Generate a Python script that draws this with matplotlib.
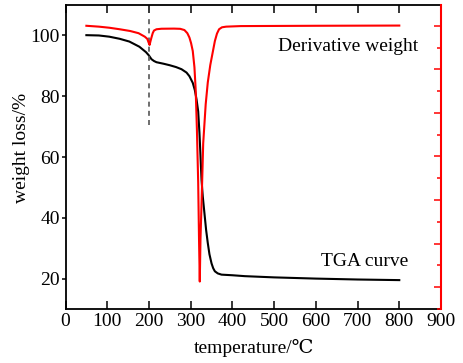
import matplotlib
matplotlib.use("Agg")
import matplotlib.pyplot as plt
from matplotlib.ticker import MultipleLocator

plt.rcParams["font.family"] = ["Liberation Serif", "DejaVu Serif", "DejaVu Sans"]

# TGA curve (weight %)
tga_temp = [50, 80, 105, 130, 153, 177, 193, 200, 206, 212, 218, 235, 250, 265,
            278, 290, 297, 305, 310, 314, 318, 321, 323, 326, 329, 333, 337, 341,
            345, 350, 354, 358, 365, 374, 400, 430, 500, 600, 700, 800]
tga_weight = [100.1, 100.0, 99.6, 98.9, 98.0, 96.3, 94.5, 93.4, 92.2, 91.6, 91.2,
              90.7, 90.2, 89.6, 88.9, 87.8, 86.6, 84.4, 82.0, 79.0, 75.0, 68.0,
              62.0, 52.5, 47.0, 41.5, 36.0, 31.7, 28.0, 25.0, 23.4, 22.4, 21.7,
              21.3, 21.1, 20.8, 20.4, 20.0, 19.7, 19.5]

# derivative weight curve (arbitrary units, right axis)
dtg_temp = [50, 80, 105, 130, 155, 175, 190, 196, 199, 201.5, 203.5, 206, 209, 212,
            218, 230, 260, 275, 285, 292, 297, 301, 305, 309, 312, 315, 318, 320,
            321.8, 323.5, 326, 330, 336, 341, 347, 353, 358, 363, 368, 375, 385,
            420, 600, 800]
dtg_value = [0.0, -0.02, -0.045, -0.08, -0.12, -0.17, -0.25, -0.30, -0.38, -0.44,
             -0.36, -0.27, -0.17, -0.11, -0.08, -0.068, -0.065, -0.07, -0.098,
             -0.17, -0.27, -0.40, -0.58, -0.95, -1.47, -2.4, -3.6, -4.9, -5.87,
             -4.9, -4.1, -2.7, -1.8, -1.3, -0.9, -0.6, -0.35, -0.18, -0.08, -0.035,
             -0.02, -0.007, 0.0, 0.005]

x_ticks = [0, 100, 200, 300, 400, 500, 600, 700, 800, 900]
y_ticks = [20, 40, 60, 80, 100]

fig = plt.figure(figsize=(4.63, 3.63), dpi=100)
ax = fig.add_axes([0.1415, 0.1488, 0.811, 0.8372])

ax.plot(tga_temp, tga_weight, color="black", lw=1.5)
ax.plot([200, 200], [70.5, 105.6], color="#555555", lw=1.2, ls=(0, (3, 2.5)))

ax.set_xlim(0, 900)
ax.set_ylim(10, 110)
ax.set_xticks(x_ticks)
ax.set_yticks(y_ticks)
ax.tick_params(axis="x", direction="in", length=6, width=1.1, top=True, labelsize=14, pad=3)
ax.tick_params(axis="y", direction="out", length=3, width=1.1, labelsize=14, pad=1)
for s in ["left", "bottom", "top"]:
    ax.spines[s].set_linewidth(1.3)
ax.spines["right"].set_visible(False)

ax.set_xlabel("temperature/℃", fontsize=14, va="center")
ax.set_ylabel("weight loss/%", fontsize=14, va="center")
ax.xaxis.set_label_coords(0.502, -0.128)
ax.yaxis.set_label_coords(-0.116, 0.53)

ax.text(845, 96.4, "Derivative weight", ha="right", va="center", fontsize=14)
ax.text(821, 25.7, "TGA curve", ha="right", va="center", fontsize=14)

# red right axis for the derivative curve
ax2 = ax.twinx()
ax2.plot(dtg_temp, dtg_value, color="red", lw=1.5)
ax2.set_ylim(-6.5, 0.475)
ax2.yaxis.set_major_locator(MultipleLocator(1.0))
ax2.yaxis.set_minor_locator(MultipleLocator(0.5))
ax2.tick_params(axis="y", which="major", direction="in", length=5, width=1.1,
                color="red", labelright=False)
ax2.tick_params(axis="y", which="minor", direction="in", length=3, width=1.1,
                color="red")
ax2.spines["right"].set_color("red")
ax2.spines["right"].set_linewidth(1.5)
for s in ["left", "bottom", "top"]:
    ax2.spines[s].set_visible(False)

fig.savefig("out.png", dpi=100)
